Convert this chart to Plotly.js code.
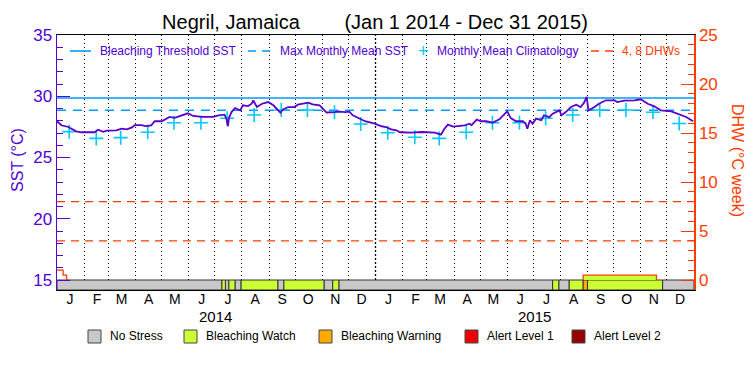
<!DOCTYPE html>
<html><head><meta charset="utf-8">
<script src="https://cdn.plot.ly/plotly-3.0.1.min.js"></script>
<style>html,body{margin:0;padding:0;background:#fff;}#chart{width:750px;height:375px;}</style>
</head><body><div id="chart"></div>
<script>
// ---------------- DATA ----------------
const sstDates = [
'2014-01-01','2014-01-06','2014-01-14','2014-01-23','2014-01-29','2014-02-13','2014-02-17','2014-02-23','2014-02-27',
'2014-03-10','2014-03-16','2014-03-22','2014-03-28','2014-03-31','2014-04-08','2014-04-12','2014-04-19','2014-04-23',
'2014-05-01','2014-05-05','2014-05-10','2014-05-16','2014-05-22','2014-05-28','2014-05-31','2014-06-06','2014-06-16',
'2014-06-29','2014-07-05','2014-07-12','2014-07-14','2014-07-16','2014-07-17','2014-07-20','2014-07-24','2014-07-30',
'2014-08-02','2014-08-08','2014-08-12','2014-08-14','2014-08-18','2014-08-24','2014-08-31','2014-09-06','2014-09-14',
'2014-09-17','2014-09-23','2014-09-30','2014-10-04','2014-10-16','2014-10-21','2014-10-29','2014-11-02','2014-11-06',
'2014-11-15','2014-11-19','2014-11-27','2014-12-02','2014-12-06','2014-12-12','2014-12-20','2014-12-31',
'2015-01-08','2015-01-13','2015-01-19','2015-01-25','2015-01-29','2015-02-11','2015-02-23','2015-03-10','2015-03-17',
'2015-03-21','2015-03-25','2015-03-31','2015-04-13','2015-04-19','2015-04-21','2015-04-27','2015-05-02','2015-05-08',
'2015-05-15','2015-05-23','2015-06-01','2015-06-05','2015-06-11','2015-06-19','2015-06-22','2015-06-24','2015-06-27',
'2015-06-30','2015-07-04','2015-07-10','2015-07-13','2015-07-19','2015-07-23','2015-07-31','2015-08-02','2015-08-07',
'2015-08-13','2015-08-19','2015-08-24','2015-08-28','2015-08-31','2015-09-02','2015-09-09','2015-09-14','2015-09-22',
'2015-10-02','2015-10-05','2015-10-13','2015-10-25','2015-11-01','2015-11-09','2015-11-16','2015-11-24','2015-12-06',
'2015-12-15','2015-12-23','2015-12-31'];
const sstValues = [
27.96,27.63,27.49,27.14,27.06,27.06,27.27,27.10,27.20,
27.22,27.35,27.30,27.46,27.65,27.65,27.57,27.63,27.96,
27.96,28.09,28.31,28.23,28.39,28.50,28.61,28.39,28.31,
28.31,28.44,28.50,28.17,27.55,28.22,28.71,29.04,28.85,
29.26,29.20,29.39,29.67,29.12,29.39,29.53,29.26,28.66,
28.93,29.12,29.12,29.31,29.47,29.33,29.26,28.99,28.66,
28.71,28.76,28.71,28.74,28.44,28.22,27.96,27.76,
27.55,27.49,27.30,27.22,27.06,27.03,27.08,27.03,26.86,
27.35,27.68,27.52,27.63,27.76,27.63,28.09,27.96,27.96,
27.84,28.12,28.77,28.22,27.96,27.96,27.76,27.35,28.04,
27.76,28.17,28.04,28.44,28.29,28.58,28.85,28.44,28.71,
29.12,29.31,29.12,29.47,29.94,28.85,29.12,29.39,29.67,
29.67,29.53,29.64,29.67,29.75,29.39,29.20,28.85,28.77,
28.50,28.31,27.96];

const climDates = [
'2014-01-15','2014-02-15','2014-03-15','2014-04-15','2014-05-15','2014-06-15','2014-07-15','2014-08-15','2014-09-15','2014-10-15','2014-11-15','2014-12-15',
'2015-01-15','2015-02-15','2015-03-15','2015-04-15','2015-05-15','2015-06-15','2015-07-15','2015-08-15','2015-09-15','2015-10-15','2015-11-15','2015-12-15'];
const climValues = [
27.11,26.56,26.62,27.06,27.84,27.84,28.20,28.47,28.88,28.88,28.69,27.73,
27.02,26.65,26.56,27.06,27.84,27.84,28.20,28.47,28.88,28.88,28.69,27.78];

const mmmValue = 28.86;          // Max Monthly Mean SST
const bleachThreshold = 29.86;   // Bleaching Threshold SST
const dhwLevels = [4, 8];

// Degree heating weeks (only non-zero stretches)
const dhwDatesA = ['2014-01-01','2014-01-08','2014-01-12','2014-01-14'];
const dhwValuesA = [1.0, 0.5, 0.0, 0.0];
const dhwDatesB = ['2015-08-27','2015-08-27','2015-11-19','2015-11-19'];
const dhwValuesB = [0.0, 0.5, 0.5, 0.0];

// Stress level bar: 0 No Stress, 1 Watch, 2 Warning, 3 Alert 1, 4 Alert 2
const stressStart = ['2014-01-01','2014-07-09','2014-07-13','2014-07-17','2014-07-24','2014-07-31','2014-09-11','2014-09-18',
  '2014-11-03','2014-11-13','2014-11-20','2015-07-23','2015-07-30','2015-08-11','2015-08-27','2015-09-01','2015-11-26'];
const stressEnd = ['2014-07-09','2014-07-13','2014-07-17','2014-07-24','2014-07-31','2014-09-11','2014-09-18','2014-11-03',
  '2014-11-13','2014-11-20','2015-07-23','2015-07-30','2015-08-11','2015-08-27','2015-09-01','2015-11-26','2016-01-01'];
const stressLevel = [0,1,0,1,0,1,0,1,0,1,0,1,0,1,2,1,0];
const stressNames = ['No Stress','Bleaching Watch','Bleaching Warning','Alert Level 1','Alert Level 2'];
const stressColors = ['#c8c8c8','#ccff33','#ffaa00','#ee0000','#960000'];

const monthLetters = ['J','F','M','A','M','J','J','A','S','O','N','D'];
const years = [2014, 2015];

// ---------------- STYLE ----------------
const PURPLE = '#5a00c8';
const TXT_PURPLE = '#5000d2';
const BLUE = '#0099ff';
const CYAN = '#00c8ff';
const RED = '#ff3c00';
const FONT = 'Liberation Sans, Arial, sans-serif';
const SST_MIN = 15 - 10/12.25, SST_MAX = 35;
const DHW_MIN = (SST_MIN - 15) * 1.25, DHW_MAX = 25;
const X0 = '2014-01-01', X1 = '2015-12-31 23:59';

const L = 57, R = 694, T = 35, B = 290;
const PX = x => (x - L) / (R - L);
const PY = y => (B - y) / (B - T);

// ---------------- TRACES ----------------
const traces = [];
const ms = d => new Date(d).getTime();
stressNames.forEach((name, lvl) => {
  const xs = [], ws = [];
  stressLevel.forEach((s, i) => {
    if (s === lvl) {
      const a = ms(stressStart[i]), b = ms(stressEnd[i]);
      xs.push((a + b) / 2); ws.push(b - a);
    }
  });
  if (!xs.length) return;
  traces.push({type:'bar', x: xs, y: xs.map(() => 15 - SST_MIN), base: SST_MIN, width: ws,
    marker:{color: stressColors[lvl], line:{color:'#333', width:1}}, yaxis:'y', showlegend:false, hoverinfo:'skip'});
});
dhwLevels.forEach(v => traces.push({type:'scatter', mode:'lines', x:[X0, X1], y:[v, v], yaxis:'y2',
  line:{color:RED, width:1.3, dash:'8px,6px'}, showlegend:false, hoverinfo:'skip'}));
traces.push({type:'scatter', mode:'lines', x:[X0, X1], y:[bleachThreshold, bleachThreshold],
  line:{color:BLUE, width:1.6}, showlegend:false});
traces.push({type:'scatter', mode:'lines', x:[X0, X1], y:[mmmValue, mmmValue],
  line:{color:BLUE, width:1.6, dash:'9px,7px'}, showlegend:false});
traces.push({type:'scatter', mode:'markers', x:climDates, y:climValues,
  marker:{symbol:'cross-thin-open', size:10, line:{color:CYAN, width:1.6}, color:CYAN}, showlegend:false});
traces.push({type:'scatter', mode:'lines', x:sstDates, y:sstValues,
  line:{color:PURPLE, width:1.8}, showlegend:false});
traces.push({type:'scatter', mode:'lines', x:dhwDatesA, y:dhwValuesA, yaxis:'y2', line:{color:RED, width:1.3, shape:'hv'}, showlegend:false});
traces.push({type:'scatter', mode:'lines', x:dhwDatesB, y:dhwValuesB, yaxis:'y2', fill:'toself', fillcolor:'#ccff33',
  line:{color:RED, width:1.3}, showlegend:false});

// ---------------- AXES ----------------
const midMonths = [], monthStarts = [], monthText = [];
years.forEach(y => {
  for (let m = 1; m <= 12; m++) {
    const mm = String(m).padStart(2, '0');
    midMonths.push(`${y}-${mm}-16`); monthText.push(monthLetters[m-1]);
    if (!(y === years[0] && m === 1)) monthStarts.push(`${y}-${mm}-01`);
  }
});

const annotations = [];
const shapes = [];
const ann = o => annotations.push(Object.assign({showarrow:false, xanchor:'center', yanchor:'middle'}, o));
// Year labels
years.forEach(y => ann({x:`${y}-07-02`, xref:'x', y:PY(316), yref:'paper', text:String(y),
  font:{family:FONT, size:15, color:'#000'}}));
// Axis titles
ann({x:PX(17), y:PY(160), xref:'paper', yref:'paper', text:'SST (°C)', textangle:-90,
  font:{family:FONT, size:16, color:TXT_PURPLE}});
ann({x:PX(738), y:PY(160), xref:'paper', yref:'paper', text:'DHW (°C week)', textangle:90,
  font:{family:FONT, size:16, color:RED}});
// Year boundary line (slightly bolder)
shapes.push({type:'line', xref:'x', yref:'paper', x0:'2015-01-01', x1:'2015-01-01', y0:PY(280), y1:1,
  line:{color:'#000', width:1.3, dash:'2px,2px'}, layer:'below'});
// Top legend
const ly = PY(51);
shapes.push({type:'line', xref:'paper', yref:'paper', x0:PX(70), x1:PX(91), y0:ly, y1:ly, line:{color:BLUE, width:1.6}});
shapes.push({type:'line', xref:'paper', yref:'paper', x0:PX(248), x1:PX(272), y0:ly, y1:ly, line:{color:BLUE, width:1.6, dash:'8px,6px'}});
shapes.push({type:'line', xref:'paper', yref:'paper', x0:PX(591), x1:PX(615), y0:ly, y1:ly, line:{color:RED, width:1.3, dash:'8px,6px'}});
ann({x:PX(423), y:ly, xref:'paper', yref:'paper', text:'+', font:{family:FONT, size:18, color:CYAN}});
[['Bleaching Threshold SST',98,TXT_PURPLE],['Max Monthly Mean SST',278,TXT_PURPLE],['Monthly Mean Climatology',435,TXT_PURPLE],['4, 8 DHWs',620,RED]]
  .forEach(([t,x,c]) => ann({x:PX(x), y:ly, xref:'paper', yref:'paper', xanchor:'left', text:t,
    font:{family:FONT, size:12, color:c}}));
// Bottom legend
const boxX = [88, 184, 319, 465, 572];
stressNames.forEach((n, i) => {
  shapes.push({type:'rect', xref:'paper', yref:'paper', x0:PX(boxX[i]), x1:PX(boxX[i]+13), y0:PY(343), y1:PY(330),
    fillcolor:stressColors[i], line:{color:'#444', width:1}});
  ann({x:PX(boxX[i]+20), y:PY(336), xref:'paper', yref:'paper', xanchor:'left', text:n,
    font:{family:FONT, size:12, color:'#000'}});
});

const layout = {
  width:750, height:375, margin:{l:L, r:750-R, t:T, b:375-B}, paper_bgcolor:'#fff', plot_bgcolor:'#fff',
  font:{family:FONT},
  title:{text:'Negril, Jamaica\u00A0\u00A0\u00A0\u00A0\u00A0\u00A0\u00A0\u00A0(Jan 1 2014 - Dec 31 2015)', x:0.5, xanchor:'center',
    y:1-22/375, yanchor:'middle', yref:'container', font:{family:FONT, size:20, color:'#000'}},
  showlegend:false, barmode:'overlay',
  xaxis:{type:'date', range:[X0, X1], tickmode:'array', tickvals:midMonths, ticktext:monthText, ticks:'', showgrid:false,
    showline:true, linecolor:'#000', linewidth:1, mirror:true, zeroline:false, tickfont:{family:FONT, size:14, color:'#000'},
    ticklabelstandoff:-4,
    minor:{tickmode:'array', tickvals:monthStarts, showgrid:true, gridcolor:'#000', gridwidth:1, griddash:'1px,3px', ticks:''}},
  yaxis:{range:[SST_MIN, SST_MAX], tickmode:'array', tickvals:[15,20,25,30,35], ticks:'inside', ticklen:13, tickcolor:PURPLE,
    showgrid:false, zeroline:false, showline:true, linecolor:PURPLE, linewidth:1.5,
    tickfont:{family:FONT, size:17, color:TXT_PURPLE},
    minor:{dtick:1, tick0:15, ticks:'inside', ticklen:6, tickcolor:PURPLE, showgrid:false}},
  yaxis2:{range:[DHW_MIN, DHW_MAX], overlaying:'y', side:'right', tickmode:'array', tickvals:[0,5,10,15,20,25], ticks:'inside',
    ticklen:13, tickcolor:RED, showgrid:false, zeroline:false, showline:true, linecolor:RED, linewidth:1.5,
    tickfont:{family:FONT, size:17, color:RED},
    minor:{dtick:1, tick0:0, ticks:'inside', ticklen:6, tickcolor:RED, showgrid:false}},
  annotations, shapes
};
Plotly.newPlot('chart', traces, layout, {staticPlot:true});
</script></body></html>
